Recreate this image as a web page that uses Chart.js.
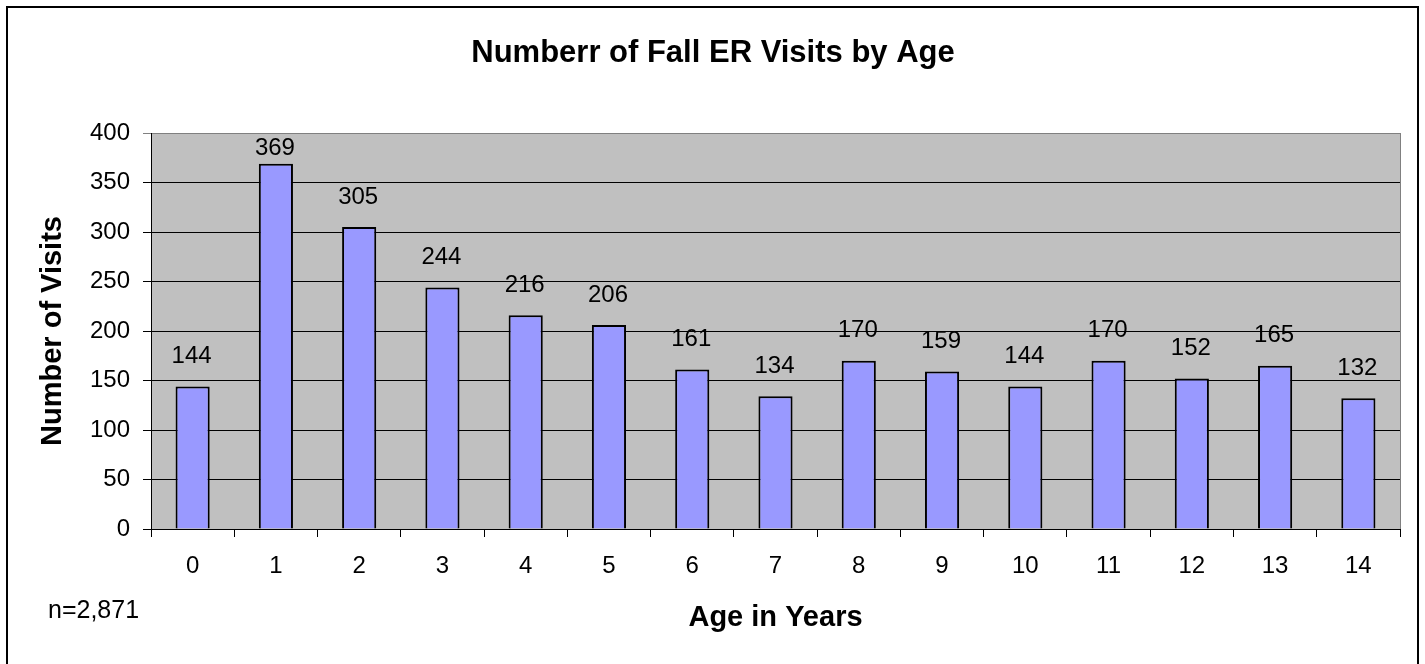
<!DOCTYPE html>
<html>
<head>
<meta charset="utf-8">
<script src="https://cdn.jsdelivr.net/npm/chart.js@4.4.1/dist/chart.umd.min.js"></script>
<style>
  html, body { margin: 0; padding: 0; background: #fff; }
  #wrap { position: relative; width: 1425px; height: 664px; }
</style>
</head>
<body>
<div id="wrap"><canvas id="c"></canvas></div>
<script>
const categories = ['0','1','2','3','4','5','6','7','8','9','10','11','12','13','14'];
const visits = [144, 369, 305, 244, 216, 206, 161, 134, 170, 159, 144, 170, 152, 165, 132];
const yTicks = [0, 50, 100, 150, 200, 250, 300, 350, 400];
const titleText = 'Numberr of Fall ER Visits by Age';
const xTitle = 'Age in Years';
const yTitle = 'Number of Visits';
const noteText = 'n=2,871';

const FONT = '"Liberation Sans", Arial, sans-serif';

const decor = {
  id: 'decor',
  beforeDraw(chart) {
    const {ctx, chartArea: a} = chart;
    ctx.save();
    ctx.fillStyle = '#C0C0C0';
    ctx.fillRect(a.left, a.top, a.right - a.left, a.bottom - a.top);
    ctx.restore();
  },
  afterDraw(chart) {
    const {ctx, chartArea: a} = chart;
    ctx.save();
    // plot right border
    ctx.strokeStyle = '#808080';
    ctx.lineWidth = 1;
    ctx.beginPath();
    ctx.moveTo(a.right + 0.5, a.top);
    ctx.lineTo(a.right + 0.5, a.bottom);
    ctx.stroke();
    // outer frame
    ctx.strokeStyle = '#000';
    ctx.lineWidth = 2;
    ctx.strokeRect(7, 7, 1411, 720);
    // title
    ctx.fillStyle = '#000';
    ctx.font = 'bold 31px ' + FONT;
    ctx.textAlign = 'center';
    ctx.textBaseline = 'middle';
    ctx.fillText(titleText, 713, 53);
    // note
    ctx.font = '25px ' + FONT;
    ctx.textAlign = 'left';
    ctx.fillText(noteText, 48, 611);
    // data labels
    ctx.font = '24px ' + FONT;
    ctx.textAlign = 'center';
    const meta = chart.getDatasetMeta(0);
    meta.data.forEach((bar, i) => {
      const y = Math.max(bar.y - 30, a.top + 15);
      ctx.fillText(String(visits[i]), bar.x - 1, y);
    });
    ctx.restore();
  }
};

new Chart(document.getElementById('c'), {
  type: 'bar',
  data: {
    labels: categories,
    datasets: [{
      data: visits,
      backgroundColor: '#9999FF',
      borderColor: '#000',
      borderWidth: 2,
      barPercentage: 0.41,
      categoryPercentage: 1.0
    }]
  },
  options: {
    responsive: true,
    maintainAspectRatio: false,
    animation: false,
    events: [],
    layout: { padding: { left: 0, right: 25, top: 133, bottom: 0 } },
    plugins: {
      legend: { display: false },
      tooltip: { enabled: false },
      title: { display: false }
    },
    scales: {
      x: {
        grid: { offset: true, drawOnChartArea: false, drawTicks: true, tickLength: 8, color: '#000', lineWidth: 1 },
        border: { color: '#000', width: 1 },
        ticks: { color: '#000', font: { family: FONT, size: 24, lineHeight: 1.2 }, padding: 14.6, maxRotation: 0, autoSkip: false },
        title: {
          display: true, text: xTitle, color: '#000',
          font: { family: FONT, size: 29, weight: 'bold', lineHeight: 1.2 },
          padding: { top: 0, bottom: 28.6 }
        },
        afterFit(s) { s.height = 135; }
      },
      y: {
        min: 0, max: 400,
        grid: {
          color: (c) => (c.tick && c.tick.value === 400) ? '#808080' : '#000',
          lineWidth: 1, tickLength: 8, drawTicks: true
        },
        border: { color: '#000', width: 1 },
        afterBuildTicks(s) { s.ticks = yTicks.map(v => ({ value: v })); },
        ticks: { color: '#000', font: { family: FONT, size: 24, lineHeight: 1.2 }, padding: 13 },
        title: {
          display: true, text: yTitle, color: '#000',
          font: { family: FONT, size: 29, weight: 'bold', lineHeight: 1.2 },
          padding: { top: 35.6, bottom: 0 }
        },
        afterFit(s) { s.width = 151; }
      }
    }
  },
  plugins: [decor]
});
</script>
</body>
</html>
